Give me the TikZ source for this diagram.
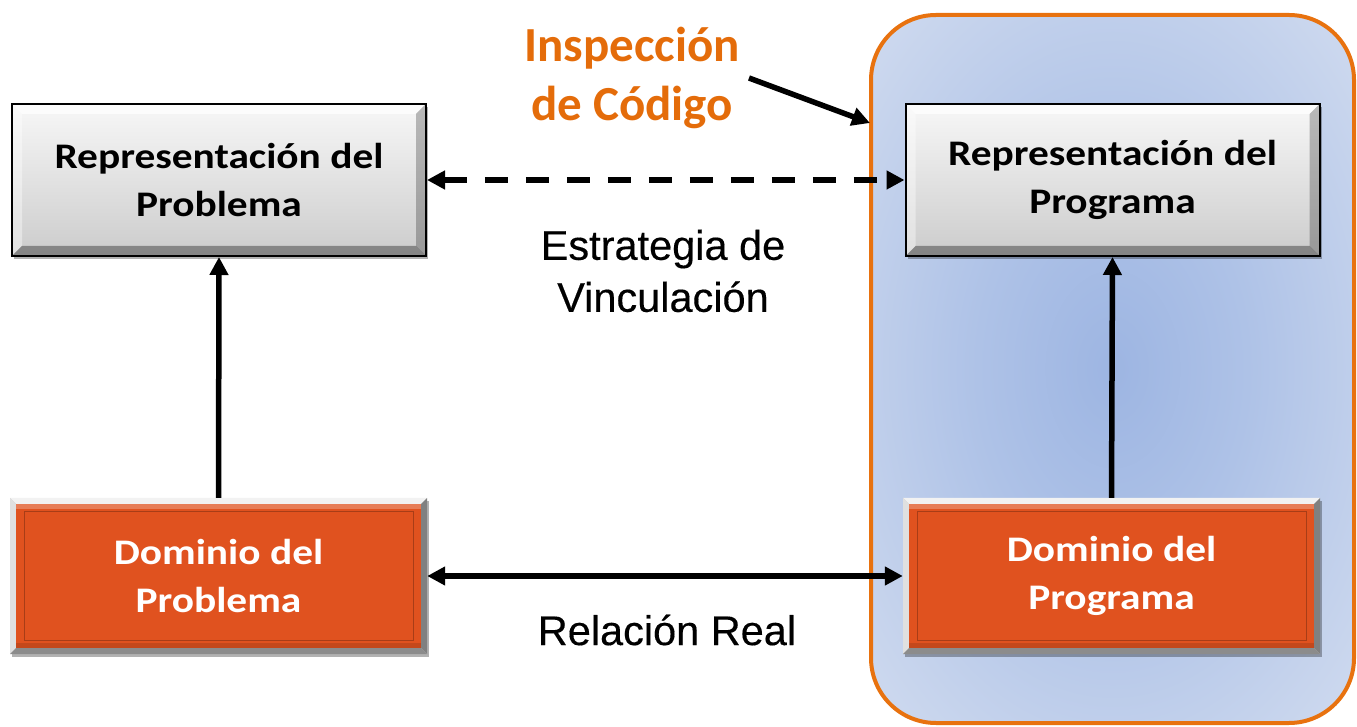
\documentclass[tikz,border=0pt]{standalone}
\usepackage{fontspec}
\newfontfamily\calfont{Carlito}
\newfontfamily\calwide[FakeStretch=1.15]{Carlito}
\newfontfamily\arialfont[FakeBold=0.3]{Liberation Sans}
\usetikzlibrary{arrows.meta,shadows}
\definecolor{boxorange}{HTML}{E0521F}
\definecolor{txtorange}{HTML}{E46C0A}
\definecolor{panelline}{HTML}{E8720F}
\definecolor{panelA}{HTML}{9DB5E2}
\definecolor{panelB}{HTML}{AEC2E7}
\definecolor{panelC}{HTML}{C4D2EC}
\definecolor{panelD}{HTML}{D8E1F2}
\definecolor{panelE}{HTML}{DEE6F3}
\pgfdeclareradialshading{panelshade}{\pgfpoint{0bp}{0bp}}{color(0bp)=(panelA); color(14bp)=(panelB); color(28bp)=(panelC); color(41bp)=(panelD); color(50bp)=(panelE); color(100bp)=(panelE)}
\newcommand\boxbevel[5]{%
 \fill[#2] (path picture bounding box.north west) -- (path picture bounding box.north east) -- ([xshift=-#1,yshift=-#1]path picture bounding box.north east) -- ([xshift=#1,yshift=-#1]path picture bounding box.north west) -- cycle;
 \fill[#3] (path picture bounding box.north west) -- ([xshift=#1,yshift=-#1]path picture bounding box.north west) -- ([xshift=#1,yshift=#1]path picture bounding box.south west) -- (path picture bounding box.south west) -- cycle;
 \fill[#4] (path picture bounding box.north east) -- ([xshift=-#1,yshift=-#1]path picture bounding box.north east) -- ([xshift=-#1,yshift=#1]path picture bounding box.south east) -- (path picture bounding box.south east) -- cycle;
 \fill[#5] (path picture bounding box.south west) -- ([xshift=#1,yshift=#1]path picture bounding box.south west) -- ([xshift=-#1,yshift=#1]path picture bounding box.south east) -- (path picture bounding box.south east) -- cycle;
}
\tikzset{
 boxshadow/.style={drop shadow={shadow xshift=2pt, shadow yshift=-3pt, opacity=0.3, fill=black}},
 greybox/.style={rectangle, minimum width=414pt, minimum height=152pt, inner sep=0pt,
   draw=black, line width=2pt, top color=white!97!black, bottom color=white!80!black, boxshadow,
   font=\calwide\bfseries\fontsize{36}{48}\selectfont, align=center, text=black,
   path picture={\boxbevel{10pt}{white,opacity=0.7}{white,opacity=0.4}{black,opacity=0.25}{black,opacity=0.35}}},
 orangebox/.style={rectangle, minimum width=417pt, minimum height=156pt, inner sep=0pt,
   fill=white!78!black, boxshadow,
   font=\calwide\bfseries\fontsize{36}{48}\selectfont, align=center, text=white,
   path picture={\boxbevel{6pt}{white!95!black}{white!88!black}{black!50}{black!45}
     \fill[boxorange] ([xshift=6pt,yshift=-6pt]path picture bounding box.north west) rectangle ([xshift=-6pt,yshift=6pt]path picture bounding box.south east);
     \fill[white,opacity=0.25] ([xshift=6pt,yshift=-6pt]path picture bounding box.north west) rectangle ([xshift=-6pt,yshift=-11pt]path picture bounding box.north east);
     \fill[black,opacity=0.12] ([xshift=6pt,yshift=6pt]path picture bounding box.south west) rectangle ([xshift=-6pt,yshift=11pt]path picture bounding box.south east);
     \draw[boxorange!75!black, line width=1pt] ([xshift=14pt,yshift=-14pt]path picture bounding box.north west) rectangle ([xshift=-14pt,yshift=14pt]path picture bounding box.south east);}},
 panelbox/.style={rectangle, rounded corners=65pt, minimum width=483pt, minimum height=708pt,
   draw=panelline, line width=4pt, shading=panelshade},
 lbl/.style={font=\arialfont\fontsize{41.5}{52}\selectfont, align=center, inner sep=0pt},
 insplbl/.style={font=\calfont\bfseries\fontsize{49}{59}\selectfont, align=center, text=txtorange, inner sep=0pt},
 arr/.style={line width=5.5pt, {Triangle[length=18pt,width=18pt]}-{Triangle[length=18pt,width=18pt]}},
 arrone/.style={line width=5.5pt, -{Triangle[length=18pt,width=18pt]}},
 dashline/.style={dash pattern=on 23pt off 18pt}
}
\begin{document}
\begin{tikzpicture}[x=1pt,y=1pt]
\useasboundingbox (0,0) rectangle (1357,726);
\node[panelbox] (panel) at (1112.5,357) {};
\node[greybox] (rp) at (219,546) {Representación del\\Problema};
\node[greybox] (rg) at (1112.5,546) {Representación del\\Programa};
\node[orangebox] (dp) at (218.5,150) {Dominio del\\Problema};
\node[orangebox] (dg) at (1111.5,150) {Dominio del\\Programa};
\node[insplbl] (insp) at (632,648) {Inspección\\de Código};
\node[lbl] (estr) at (663,455) {Estrategia de\\Vinculación};
\node[lbl] (rel) at (667,96) {Relación Real};
\coordinate (itip) at (870,603);
\draw[arrone] (dp.north) -- (rp.south);
\draw[arrone] (dg.north) -- (rg.south);
\draw[arr, dashline] (rp.east) -- (rg.west);
\draw[arr] (dp.east) -- (dg.west);
\draw[arrone] ([xshift=9pt]insp.east) -- (itip);
\end{tikzpicture}
\end{document}
